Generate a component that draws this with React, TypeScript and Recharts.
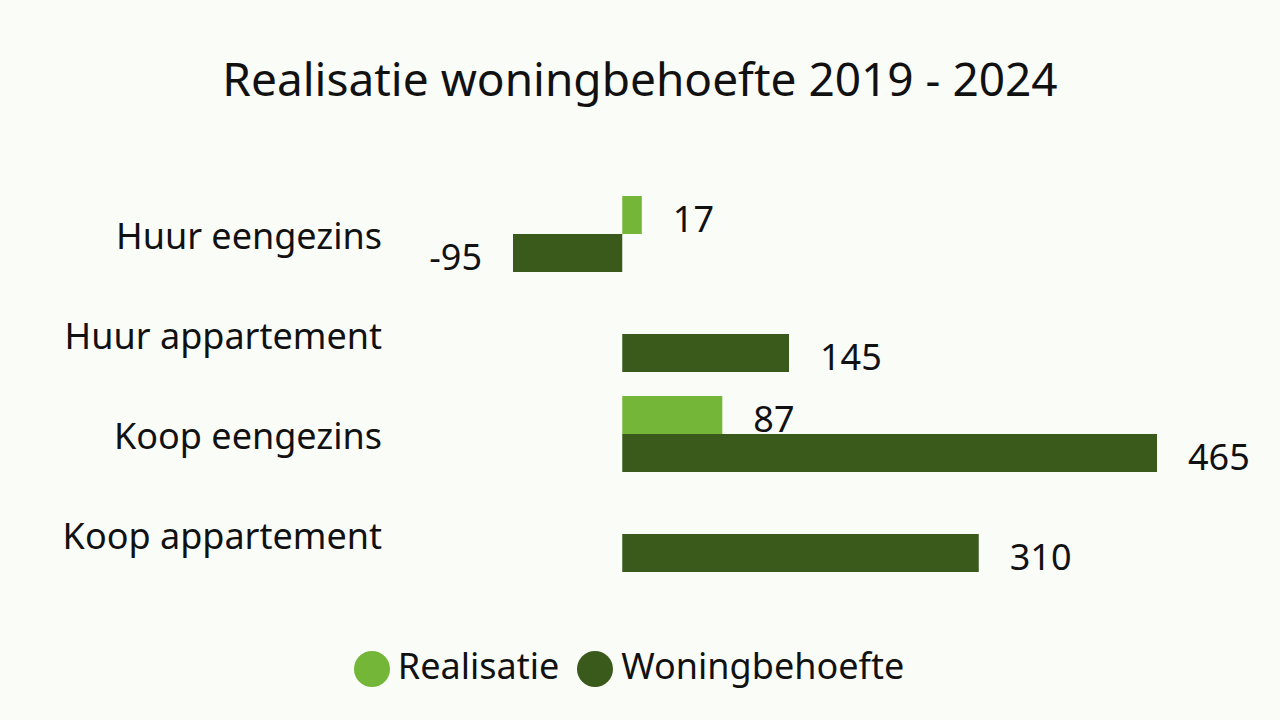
import React from "react";
import { BarChart, Bar, XAxis, YAxis, Legend, LabelList } from "recharts";

const categories = ["Huur eengezins", "Huur appartement", "Koop eengezins", "Koop appartement"];
const realisatie = [17, null, 87, null];
const woningbehoefte = [-95, 145, 465, 310];

const LIGHT = "#74b738";
const DARK = "#3a5a1c";
const BG = "#fafcf8";
const FONT = "'Noto Sans', 'Open Sans', sans-serif";

const rows = categories.map((name, i) => ({
  name,
  Realisatie: realisatie[i],
  Woningbehoefte: woningbehoefte[i],
}));

const fmt = (v: unknown) => (v == null ? "" : String(v));

export default function App() {
  return (
    <div style={{ position: "fixed", left: 0, top: 0, width: 1280, height: 720, background: BG, fontFamily: FONT }}>
      <div style={{ position: "absolute", top: 46, width: 1280, textAlign: "center", fontSize: 46, color: "#111", lineHeight: "64px" }}>
        Realisatie woningbehoefte 2019 - 2024
      </div>
      <BarChart
        width={1280}
        height={720}
        data={rows}
        layout="vertical"
        margin={{ top: 184, right: 123, bottom: 84, left: 0 }}
        barCategoryGap="12%"
        barGap={0}
        style={{ position: "absolute", left: 0, top: 0 }}
      >
        <XAxis type="number" hide domain={[-95, 465]} />
        <YAxis
          type="category"
          dataKey="name"
          width={513}
          axisLine={false}
          tickLine={false}
          tickSize={0}
          tickMargin={131}
          tick={{ fontSize: 36, fill: "#111", fontFamily: FONT, dy: 2 }}
        />
        <Legend
          verticalAlign="bottom"
          iconType="circle"
          iconSize={36}
          wrapperStyle={{ fontSize: 36, fontFamily: FONT, color: "#111", top: 640, bottom: "auto", left: -2, width: 1280, lineHeight: "52px" }}
          formatter={(v) => <span style={{ color: "#111", marginLeft: 4, marginRight: 8 }}>{v}</span>}
        />
        <Bar dataKey="Realisatie" fill={LIGHT} isAnimationActive={false}>
          <LabelList dataKey="Realisatie" position="right" offset={31} formatter={fmt} dy={4}
            style={{ fontSize: 36, fill: "#111", fontFamily: FONT }} />
        </Bar>
        <Bar dataKey="Woningbehoefte" fill={DARK} isAnimationActive={false}>
          <LabelList dataKey="Woningbehoefte" position="right" offset={31} formatter={fmt} dy={4}
            style={{ fontSize: 36, fill: "#111", fontFamily: FONT }} />
        </Bar>
      </BarChart>
    </div>
  );
}
